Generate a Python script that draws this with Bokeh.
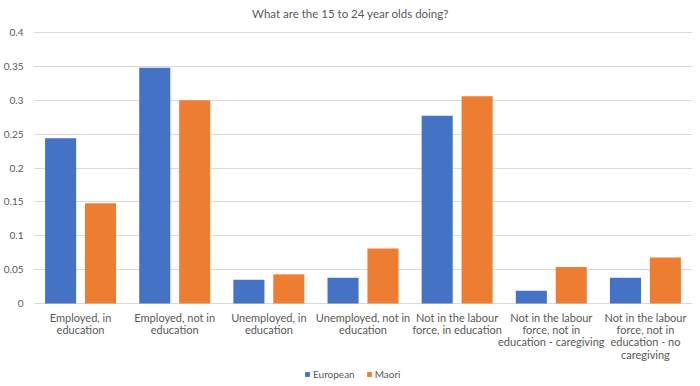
from bokeh.plotting import figure
from bokeh.models import (FactorRange, Range1d, FixedTicker, NumeralTickFormatter, Legend, LegendItem,
                          ColumnDataSource, Label)
from bokeh.transform import dodge
from bokeh.core.properties import value
from bokeh.embed import file_html
from bokeh.resources import INLINE

title_text = "What are the 15 to 24 year olds doing?"
categories = [
    "Employed, in\neducation",
    "Employed, not in\neducation",
    "Unemployed, in\neducation",
    "Unemployed, not in\neducation",
    "Not in the labour\nforce, in education",
    "Not in the labour\nforce, not in\neducation - caregiving",
    "Not in the labour\nforce, not in\neducation - no\ncaregiving",
]
european = [0.244, 0.348, 0.035, 0.038, 0.277, 0.019, 0.038]
maori = [0.148, 0.300, 0.043, 0.081, 0.306, 0.054, 0.068]
y_ticks = [0, 0.05, 0.1, 0.15, 0.2, 0.25, 0.3, 0.35, 0.4]
series_names = ["European", "Maori"]

FONT = "Lato"
GREY = "#595959"

W, H = 700, 386
TOP, LEFT, RIGHT = 32, 33, 8
PLOT_H = 271  # pixel height of the 0..0.4 value area
y_max = y_ticks[-1]
px = y_max / PLOT_H
y_min = -(H - TOP - PLOT_H) * px      # room below the baseline for category labels + legend
y_top = y_max + TOP * px              # room above for the title

src = ColumnDataSource(dict(cat=categories, european=european, maori=maori,
                            base=[0] * len(categories)))

p = figure(width=W, height=H, x_range=FactorRange(*categories), y_range=Range1d(y_min, y_top),
           output_backend="svg", toolbar_location=None,
           min_border_left=LEFT, min_border_right=RIGHT, min_border_top=0, min_border_bottom=0)

r1 = p.vbar(x=dodge("cat", -0.212, range=p.x_range), top="european", width=0.33, source=src,
            fill_color="#4472C4", line_color=None)
r2 = p.vbar(x=dodge("cat", 0.212, range=p.x_range), top="maori", width=0.33, source=src,
            fill_color="#ED7D31", line_color=None)

# category labels under the baseline
p.text(x="cat", y="base", text="cat", source=src, text_align="center", text_baseline="top",
       y_offset=7, text_font=value(FONT), text_font_size="11px", text_color=GREY,
       text_line_height=0.95)

# chart title (centred on the whole chart, not the plot area)
p.add_layout(Label(x=len(categories) * (W / 2 - LEFT) / (W - LEFT - RIGHT), y=H - 13,
                   x_units="data", y_units="screen", text=title_text,
                   text_align="center", text_baseline="middle", text_font=FONT,
                   text_font_size="11.5px", text_color=GREY))

p.outline_line_color = None
p.xaxis.visible = False
p.xgrid.grid_line_color = None
p.ygrid.ticker = FixedTicker(ticks=y_ticks)
p.ygrid.grid_line_color = "#D9D9D9"
p.ygrid.grid_line_width = 1
p.yaxis.ticker = FixedTicker(ticks=y_ticks)
p.yaxis.formatter = NumeralTickFormatter(format="0.[00]")
p.yaxis.axis_line_color = None
p.yaxis.major_tick_line_color = None
p.yaxis.minor_tick_line_color = None
p.yaxis.major_tick_out = 0
p.yaxis.minor_tick_out = 0
p.yaxis.major_label_text_font = FONT
p.yaxis.major_label_text_font_size = "10px"
p.yaxis.major_label_text_color = GREY
p.yaxis.major_label_standoff = 10

legend = Legend(items=[LegendItem(label=series_names[0], renderers=[r1]),
                       LegendItem(label=series_names[1], renderers=[r2])],
                location=(271, 6), orientation="horizontal",
                glyph_width=6, glyph_height=6, label_standoff=3, spacing=11,
                label_text_font=FONT, label_text_font_size="10px", label_text_color=GREY,
                label_height=10, padding=0, margin=0,
                background_fill_alpha=0, border_line_color=None)
p.add_layout(legend, "center")

open("out.html", "w").write(file_html(p, INLINE))
